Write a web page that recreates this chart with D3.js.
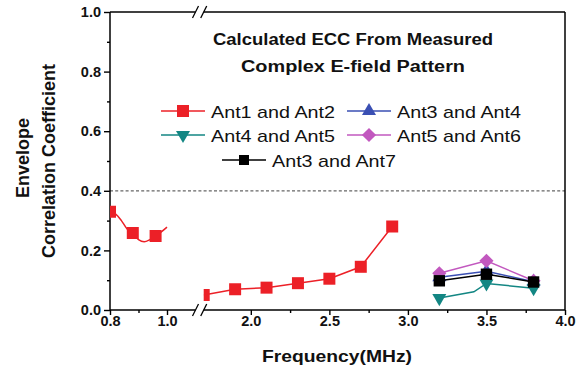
<!DOCTYPE html>
<html><head><meta charset="utf-8">
<script src="https://cdn.jsdelivr.net/npm/d3@7"></script>
<style>
html,body{margin:0;padding:0;background:#fff;}
svg{display:block;font-family:"Liberation Sans",Arial,Helvetica,sans-serif;}
</style>
</head><body>
<svg id="chart" width="585" height="373"></svg>
<script>
// ECC values per antenna pair against frequency (axis is broken between 1.1 and 1.7)
const lowBandFreq = [0.80, 0.82, 0.84, 0.86, 0.88, 0.90, 0.92, 0.94, 0.96, 0.98, 1.00];
const lowBandEcc12 = [0.330, 0.322, 0.300, 0.272, 0.258, 0.236, 0.229, 0.236, 0.248, 0.262, 0.278];
const lowBandMarkFreq = [0.80, 0.88, 0.96];
const lowBandMarkEcc12 = [0.330, 0.258, 0.248];
const midBandFreq = [1.7, 1.9, 2.1, 2.3, 2.5, 2.7, 2.9];
const midBandEcc12 = [0.050, 0.070, 0.075, 0.090, 0.105, 0.145, 0.280];
const highBandFreq = [3.2, 3.5, 3.8];
const ecc34 = [0.110, 0.130, 0.095];
const ecc45 = [0.040, 0.089, 0.073];
const ecc45LineFreq = [3.2, 3.42, 3.5, 3.8];
const ecc45Line = [0.040, 0.061, 0.089, 0.073];
const ecc56 = [0.123, 0.165, 0.098];
const ecc37 = [0.098, 0.120, 0.094];

const seriesNames = ["Ant1 and Ant2", "Ant3 and Ant4", "Ant4 and Ant5", "Ant5 and Ant6", "Ant3 and Ant7"];
const seriesColors = ["#ec2027", "#3a4fb3", "#138683", "#c258bf", "#000000"];

const xTicksLow = [0.8, 1.0];
const xMinorLow = [0.9];
const xTicksHigh = [2.0, 2.5, 3.0, 3.5, 4.0];
const xMinorHigh = [2.25, 2.75, 3.25, 3.75];
const yTicks = [0.0, 0.2, 0.4, 0.6, 0.8, 1.0];
const yMinor = [0.1, 0.3, 0.5, 0.7, 0.9];
const thresholdEcc = 0.4;

const titleLines = ["Calculated ECC From Measured", "Complex E-field Pattern"];
const xTitle = "Frequency(MHz)";
const yTitleLines = ["Envelope", "Correlation Coefficient"];

const svg = d3.select("#chart");
const plotLeft = 110, plotRight = 565, plotTop = 12, plotBottom = 310;
const breakL = 195.5, breakR = 203.7;

const xLow = d3.scaleLinear().domain([0.8, 1.1]).range([plotLeft, breakL]);
const xHigh = d3.scaleLinear().domain([1.7, 4.0]).range([breakR, plotRight]);
const y = d3.scaleLinear().domain([0, 1]).range([plotBottom, plotTop]);

const FONT = '"Liberation Sans",Arial,Helvetica,sans-serif';

// clip regions for each axis segment
const defs = svg.append("defs");
defs.append("clipPath").attr("id", "clipLow").append("rect")
  .attr("x", plotLeft).attr("y", plotTop).attr("width", breakL - plotLeft).attr("height", plotBottom - plotTop);
defs.append("clipPath").attr("id", "clipHigh").append("rect")
  .attr("x", breakR).attr("y", plotTop).attr("width", plotRight - breakR).attr("height", plotBottom - plotTop);

// threshold line
svg.append("line")
  .attr("x1", plotLeft).attr("x2", plotRight)
  .attr("y1", y(thresholdEcc)).attr("y2", y(thresholdEcc))
  .attr("stroke", "#666").attr("stroke-width", 1.3).attr("stroke-dasharray", "3,2.2");

// axes
function styleAxis(g) {
  g.select(".domain").remove();
  g.selectAll("line").attr("stroke", "#000").attr("stroke-width", 1.4);
  g.selectAll("text").attr("font-family", FONT).attr("font-size", 14.5)
    .attr("font-weight", "bold").attr("fill", "#111");
}
function minorAxis(g) {
  g.select(".domain").remove();
  g.selectAll("line").attr("stroke", "#000").attr("stroke-width", 1.4);
}
svg.append("g").attr("transform", `translate(0,${plotBottom})`)
  .call(d3.axisBottom(xLow).tickValues(xTicksLow).tickFormat(d3.format(".1f")).tickSize(5).tickPadding(1))
  .call(styleAxis);
svg.append("g").attr("transform", `translate(0,${plotBottom})`)
  .call(d3.axisBottom(xHigh).tickValues(xTicksHigh).tickFormat(d3.format(".1f")).tickSize(5).tickPadding(1))
  .call(styleAxis);
svg.append("g").attr("transform", `translate(0,${plotBottom})`)
  .call(d3.axisBottom(xLow).tickValues(xMinorLow).tickFormat("").tickSize(3)).call(minorAxis);
svg.append("g").attr("transform", `translate(0,${plotBottom})`)
  .call(d3.axisBottom(xHigh).tickValues(xMinorHigh).tickFormat("").tickSize(3)).call(minorAxis);
svg.append("g").attr("transform", `translate(${plotLeft},0)`)
  .call(d3.axisLeft(y).tickValues(yTicks).tickFormat(d3.format(".1f")).tickSize(6).tickPadding(3))
  .call(styleAxis);
svg.append("g").attr("transform", `translate(${plotLeft},0)`)
  .call(d3.axisLeft(y).tickValues(yMinor).tickFormat("").tickSize(3)).call(minorAxis);

// frame with break marks
const frame = svg.append("g").attr("stroke", "#000").attr("stroke-width", 1.5).attr("fill", "none");
[plotTop, plotBottom].forEach(yy => {
  frame.append("line").attr("x1", plotLeft).attr("x2", breakL).attr("y1", yy).attr("y2", yy);
  frame.append("line").attr("x1", breakR).attr("x2", plotRight).attr("y1", yy).attr("y2", yy);
  [breakL, breakR].forEach(bx => {
    frame.append("line").attr("x1", bx - 3).attr("y1", yy + 6).attr("x2", bx + 3).attr("y2", yy - 6)
      .attr("stroke-width", 1.3);
  });
});
frame.append("line").attr("x1", plotLeft).attr("x2", plotLeft).attr("y1", plotTop).attr("y2", plotBottom);
frame.append("line").attr("x1", plotRight).attr("x2", plotRight).attr("y1", plotTop).attr("y2", plotBottom);

// marker shapes
const markerShapes = [
  {type: d3.symbolSquare, size: 144, rot: 0},
  {type: d3.symbolTriangle, size: 85, rot: 0},
  {type: d3.symbolTriangle, size: 85, rot: 180},
  {type: d3.symbolSquare, size: 100, rot: 45},
  {type: d3.symbolSquare, size: 130, rot: 0}
];
function drawMarkers(g, xs, ys, xScale, idx) {
  const m = markerShapes[idx];
  const path = d3.symbol().type(m.type).size(m.size)();
  g.selectAll(null).data(xs.map((v, i) => [v, ys[i]])).join("path")
    .attr("d", path)
    .attr("transform", d => `translate(${xScale(d[0])},${y(d[1])}) rotate(${m.rot})`)
    .attr("fill", seriesColors[idx]);
}
function drawLine(g, xs, ys, xScale, idx, curve) {
  g.append("path")
    .datum(xs.map((v, i) => [v, ys[i]]))
    .attr("fill", "none").attr("stroke", seriesColors[idx]).attr("stroke-width", 1.5)
    .attr("d", d3.line().x(d => xScale(d[0])).y(d => y(d[1])).curve(curve || d3.curveLinear));
}

// low band (Ant1/Ant2)
const gLow = svg.append("g").attr("clip-path", "url(#clipLow)");
drawLine(gLow, lowBandFreq, lowBandEcc12, xLow, 0, d3.curveCatmullRom);
drawMarkers(gLow, lowBandMarkFreq, lowBandMarkEcc12, xLow, 0);

// upper bands
const gHigh = svg.append("g").attr("clip-path", "url(#clipHigh)");
drawLine(gHigh, midBandFreq, midBandEcc12, xHigh, 0);
drawMarkers(gHigh, midBandFreq, midBandEcc12, xHigh, 0);
drawLine(gHigh, highBandFreq, ecc34, xHigh, 1);
drawMarkers(gHigh, highBandFreq, ecc34, xHigh, 1);
drawLine(gHigh, highBandFreq, ecc56, xHigh, 3);
drawMarkers(gHigh, highBandFreq, ecc56, xHigh, 3);
drawLine(gHigh, ecc45LineFreq, ecc45Line, xHigh, 2);
drawMarkers(gHigh, highBandFreq, ecc45, xHigh, 2);
drawLine(gHigh, highBandFreq, ecc37, xHigh, 4);
drawMarkers(gHigh, highBandFreq, ecc37, xHigh, 4);

// title
const titleLayout = [{y: 45, w: 280}, {y: 72, w: 224}];
svg.selectAll(null).data(titleLines).join("text")
  .attr("x", 353).attr("y", (d, i) => titleLayout[i].y)
  .attr("text-anchor", "middle").attr("font-family", FONT)
  .attr("font-size", 16).attr("font-weight", "bold").attr("fill", "#111")
  .attr("textLength", (d, i) => titleLayout[i].w).attr("lengthAdjust", "spacingAndGlyphs")
  .text(d => d);

// legend
const legendPos = [
  {x: 183, y: 111}, {x: 369, y: 111},
  {x: 183, y: 135}, {x: 369, y: 135},
  {x: 244, y: 160}
];
const legendMarkerSize = [144, 85, 85, 100, 100];
seriesNames.forEach((name, i) => {
  const p = legendPos[i];
  const g = svg.append("g").attr("transform", `translate(${p.x},${p.y})`);
  g.append("line").attr("x1", -22).attr("x2", 22).attr("y1", 0).attr("y2", 0)
    .attr("stroke", seriesColors[i]).attr("stroke-width", 1.5);
  const m = markerShapes[i];
  g.append("path").attr("d", d3.symbol().type(m.type).size(legendMarkerSize[i])())
    .attr("transform", `rotate(${m.rot})`).attr("fill", seriesColors[i]);
  g.append("text").attr("x", 28).attr("y", 6.5)
    .attr("font-family", FONT).attr("font-size", 17).attr("fill", "#111")
    .attr("textLength", 124).attr("lengthAdjust", "spacingAndGlyphs")
    .text(name);
});

// axis titles
svg.append("text").attr("x", 337).attr("y", 362).attr("text-anchor", "middle")
  .attr("font-family", FONT).attr("font-size", 17).attr("font-weight", "bold").attr("fill", "#111")
  .attr("textLength", 150).attr("lengthAdjust", "spacingAndGlyphs")
  .text(xTitle);
const yTitleLayout = [{x: 29, c: 158}, {x: 55, c: 161}];
svg.selectAll(null).data(yTitleLines).join("text")
  .attr("transform", (d, i) => `translate(${yTitleLayout[i].x},${yTitleLayout[i].c}) rotate(-90)`)
  .attr("text-anchor", "middle").attr("font-family", FONT)
  .attr("font-size", 18).attr("font-weight", "bold").attr("fill", "#111")
  .text(d => d);
</script>
</body></html>
